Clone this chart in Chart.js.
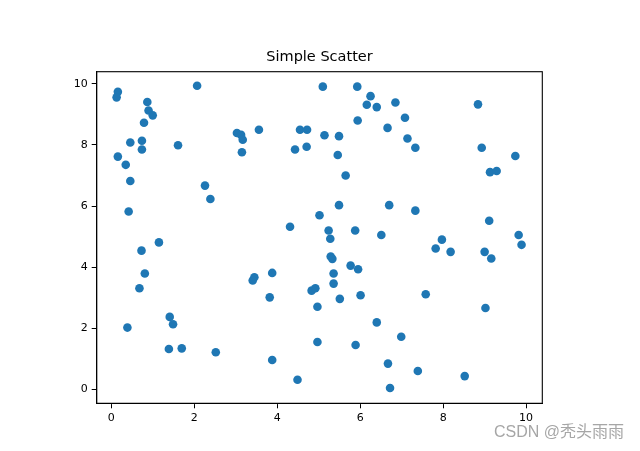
<!DOCTYPE html>
<html>
<head>
<meta charset="utf-8">
<style>
  html, body { margin: 0; padding: 0; background: #fff; }
  #wrap { width: 640px; height: 451px; }
</style>
<script src="https://cdn.jsdelivr.net/npm/chart.js@4/dist/chart.umd.min.js"></script>
</head>
<body>
<div id="wrap"><canvas id="myChart" width="640" height="451"></canvas></div>
<script>
const xs = [
  0.16, 0.13, 2.07, 0.87, 0.90, 1.00, 0.79, 3.03, 3.13, 3.17,
  3.56, 4.55, 4.72, 0.46, 0.74, 0.74, 1.61, 3.15, 4.43, 4.71,
  0.16, 0.35, 0.46, 2.26, 2.39, 0.42, 4.31, 5.02, 5.10, 5.93,
  6.25, 6.16, 6.40, 6.85, 8.84, 5.94, 7.08, 6.66, 5.14, 5.49,
  7.14, 7.33, 5.46, 8.93, 9.74, 5.65, 9.13, 9.29, 5.49, 6.70,
  7.33, 9.11, 5.24, 5.88, 6.51, 7.97, 9.82, 5.28, 7.82, 8.18,
  9.00, 9.16, 9.89, 5.29, 5.33, 5.77, 5.95, 5.36, 5.36, 4.83,
  4.92, 5.51, 6.01, 4.97, 7.58, 9.02, 6.40, 6.99, 4.97, 5.89,
  6.67, 7.39, 8.52, 6.72, 1.15, 0.73, 0.81, 0.68, 0.39, 1.41,
  1.49, 1.39, 1.70, 2.52, 3.45, 3.41, 3.88, 3.82, 3.88, 4.49
];
const ys = [
  9.74, 9.56, 9.94, 9.41, 9.13, 8.97, 8.73, 8.39, 8.33, 8.17,
  8.50, 8.50, 8.50, 8.08, 8.14, 7.85, 7.99, 7.76, 7.85, 7.94,
  7.62, 7.35, 6.82, 6.67, 6.23, 5.82, 5.32, 5.70, 9.91, 9.91,
  9.60, 9.32, 9.24, 9.39, 9.33, 8.80, 8.89, 8.56, 8.32, 8.29,
  8.21, 7.91, 7.67, 7.91, 7.64, 7.00, 7.11, 7.15, 6.03, 6.03,
  5.85, 5.52, 5.20, 5.20, 5.05, 4.90, 5.05, 4.93, 4.61, 4.50,
  4.50, 4.28, 4.73, 4.35, 4.27, 4.05, 3.93, 3.79, 3.46, 3.23,
  3.31, 2.96, 3.08, 2.70, 3.11, 2.66, 2.19, 1.72, 1.55, 1.45,
  0.84, 0.60, 0.43, 0.04, 4.81, 4.54, 3.79, 3.31, 2.02, 2.37,
  2.13, 1.32, 1.34, 1.21, 3.67, 3.56, 3.81, 3.01, 0.96, 0.31
];
const xTicks = [0, 2, 4, 6, 8, 10];
const yTicks = [0, 2, 4, 6, 8, 10];
const title = 'Simple Scatter';
const watermark = 'CSDN @秃头雨雨';

const points = xs.map((x, i) => ({ x: x, y: ys[i] }));

// frame on all four sides, plus the watermark
const framePlugin = {
    id: 'frame',
    afterDatasetsDraw(chart) {
        const a = chart.chartArea;
        const c = chart.ctx;
        c.save();
        c.strokeStyle = '#000';
        c.lineWidth = 1.1;
        c.strokeRect(a.left, a.top, a.right - a.left, a.bottom - a.top);
        c.restore();
    },
    afterDraw(chart) {
        const c = chart.ctx;
        c.save();
        c.font = '16px "Liberation Sans", "Noto Sans CJK SC", sans-serif';
        c.fillStyle = '#a6a6a6';
        c.textAlign = 'right';
        c.textBaseline = 'alphabetic';
        c.fillText(watermark, 624, 437);
        c.restore();
    }
};

const tickFont = { family: 'DejaVu Sans', size: 11 };

new Chart(document.getElementById('myChart'), {
    type: 'scatter',
    data: {
        datasets: [{
            data: points,
            backgroundColor: '#1f77b4',
            borderWidth: 0,
            pointRadius: 4.3,
            pointHoverRadius: 4.3,
        }]
    },
    options: {
        responsive: false,
        animation: false,
        devicePixelRatio: 1,
        layout: {
            padding: { left: 0, right: 97.7, top: 0, bottom: 0 }
        },
        plugins: {
            legend: { display: false },
            tooltip: { enabled: false },
            title: {
                display: true,
                text: title,
                fullSize: false,
                color: '#000',
                font: { family: 'DejaVu Sans', size: 14.5, weight: 'normal', lineHeight: 1.2 },
                padding: { top: 48.9, bottom: 5.4 }
            }
        },
        scales: {
            x: {
                type: 'linear',
                min: -0.35,
                max: 10.39,
                afterBuildTicks: s => { s.ticks = xTicks.map(v => ({ value: v })); },
                afterFit: s => { s.height = 47.7; },
                grid: { display: true, drawOnChartArea: false, drawTicks: true, tickLength: 5, color: '#000', tickWidth: 1 },
                border: { display: true, color: '#000', width: 1.1 },
                ticks: { color: '#000', font: tickFont, padding: 3, maxRotation: 0 }
            },
            y: {
                type: 'linear',
                min: -0.46,
                max: 10.40,
                afterBuildTicks: s => { s.ticks = yTicks.map(v => ({ value: v })); },
                afterFit: s => { s.width = 96.7; },
                grid: { display: true, drawOnChartArea: false, drawTicks: true, tickLength: 5, color: '#000', tickWidth: 1 },
                border: { display: true, color: '#000', width: 1.1 },
                ticks: { color: '#000', font: tickFont, padding: 4 }
            }
        }
    },
    plugins: [framePlugin]
});
</script>
</body>
</html>
